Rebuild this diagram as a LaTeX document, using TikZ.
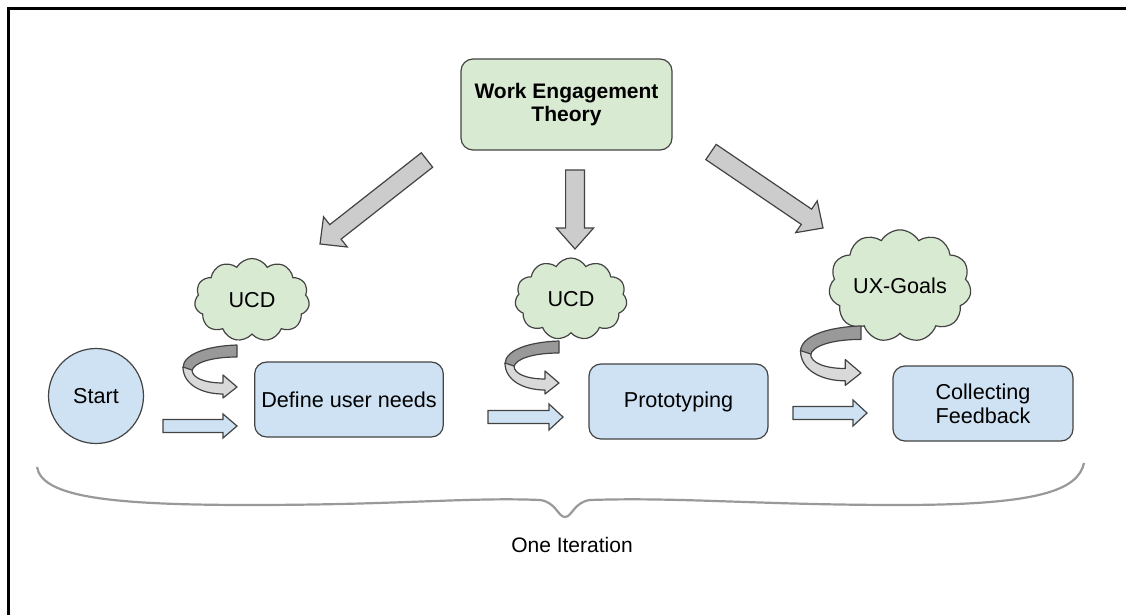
\documentclass[tikz,border=0pt]{standalone}
\usepackage{fontspec}
\setmainfont{Liberation Sans}
\usetikzlibrary{shapes.symbols,calc}

\definecolor{boxblue}{HTML}{CFE2F3}
\definecolor{boxgreen}{HTML}{D9EAD3}
\definecolor{edgegray}{HTML}{434343}
\definecolor{arrowgray}{HTML}{CCCCCC}
\definecolor{backgray}{HTML}{999999}
\definecolor{frontgray}{HTML}{D9D9D9}

% fat arrow from #2 to #3: half shaft #4, half head #5, head length #6
\newcommand{\blockarrow}[6][]{%
  \coordinate (hb) at ($(#3)!#6!(#2)$);
  \draw[#1] ($(#2)!#4!90:(#3)$) -- ($(hb)!#4!90:(#3)$) -- ($(hb)!#5!90:(#3)$) -- (#3)
    -- ($(hb)!#5!-90:(#3)$) -- ($(hb)!#4!-90:(#3)$) -- ($(#2)!#4!-90:(#3)$) -- cycle;}

% u-turn ribbon arrow, tip at #2
\newcommand{\turnarrow}[2][1]{%
  \begin{scope}[shift={(#2)},scale=#1,draw=edgegray,line width=0.6pt,line join=round]
    \filldraw[fill=backgray] (0,-42) .. controls (-30,-41) and (-54,-33) .. (-54,-19)
      -- (-45,-16) .. controls (-44,-24) and (-26,-30) .. (0,-30) -- cycle;
    \filldraw[fill=frontgray] (-54,-20) .. controls (-54,-3) and (-36,7) .. (-14,7)
      -- (-14,11) -- (0,0) -- (-14,-12) -- (-14,-4)
      .. controls (-32,-4) and (-45,-9) .. (-45,-17) -- cycle;
  \end{scope}}

\begin{document}
\begin{tikzpicture}[x=0.5pt,y=-0.5pt,
    font=\fontsize{10.8}{12}\selectfont,
    stage/.style={draw=edgegray,fill=boxblue,rounded corners=6pt,align=center,
      minimum height=37.5pt,line width=0.6pt},
    idea/.style={cloud,cloud puffs=11,cloud puff arc=120,aspect=1.4,draw=edgegray,
      fill=boxgreen,line width=0.6pt,inner sep=0pt},
    greyarrow/.style={draw=edgegray,fill=arrowgray,line width=0.6pt},
    flowarrow/.style={draw=edgegray,fill=boxblue,line width=0.6pt}]
  \useasboundingbox (0,0) rectangle (1126,615);
  \draw[line width=1.5pt] (1126,9) -- (8,9) -- (8,615);

  \node[draw=edgegray,fill=boxgreen,rounded corners=6pt,align=center,line width=0.6pt,
    minimum width=105.5pt,minimum height=45.5pt,font=\fontsize{10.5}{11.5}\selectfont\bfseries]
    (theory) at (566.5,104.5) {Work Engagement\\Theory};

  \node[circle,draw=edgegray,fill=boxblue,line width=0.6pt,minimum size=47.5pt] (start) at (96,396) {Start};
  \node[stage,minimum width=93pt] (needs) at (349,399.5) {Define user needs};
  \node[stage,minimum width=89.5pt] (proto) at (678.5,401.5) {Prototyping};
  \node[stage,minimum width=90pt] (feedback) at (983,403.5) {Collecting\\Feedback};

  \node[idea,minimum width=57.5pt,minimum height=41.5pt] (ucd1) at (252,300) {UCD};
  \node[idea,minimum width=56pt,minimum height=41pt] (ucd2) at (571,299) {UCD};
  \node[idea,minimum width=68.5pt,minimum height=52.5pt] (goals) at (900,286) {UX-Goals};

  % theory feeds every stage
  \coordinate (t1) at (427,160); \coordinate (h1) at (320,244);
  \coordinate (t2) at (575,170); \coordinate (h2) at (575,249);
  \coordinate (t3) at (711,152); \coordinate (h3) at (823,228);
  \blockarrow[greyarrow]{t1}{h1}{4.6pt}{9.6pt}{9.8pt}
  \blockarrow[greyarrow]{t2}{h2}{4.7pt}{9.3pt}{10.5pt}
  \blockarrow[greyarrow]{t3}{h3}{4.6pt}{9.6pt}{10pt}

  % process flow
  \coordinate (f1) at (163,426); \coordinate (g1) at (237,426);
  \coordinate (f2) at (488,417); \coordinate (g2) at (563,417);
  \coordinate (f3) at (793,413); \coordinate (g3) at (867,413);
  \blockarrow[flowarrow]{f1}{g1}{3.25pt}{6pt}{7pt}
  \blockarrow[flowarrow]{f2}{g2}{3.25pt}{6.5pt}{7pt}
  \blockarrow[flowarrow]{f3}{g3}{3.25pt}{6.5pt}{7pt}

  \coordinate (u1) at (237,387);
  \coordinate (u2) at (559,383);
  \coordinate (u3) at (861,373);
  \turnarrow{u1}
  \turnarrow{u2}
  \turnarrow[1.12]{u3}

  % brace under the whole loop
  \coordinate (brace-l) at (37,467);
  \coordinate (brace-m) at (565,517);
  \coordinate (brace-r) at (1084,463);
  \draw[backgray,line width=1.1pt] (brace-l) .. controls (42,497) and (110,505) .. (250,505)
    .. controls (400,505) and (470,497) .. (540,500)
    .. controls (556,502) and (558,517) .. (brace-m)
    .. controls (572,517) and (574,502) .. (590,500)
    .. controls (680,497) and (760,505) .. (900,505)
    .. controls (1040,505) and (1078,490) .. (brace-r);
  \node[font=\fontsize{10.5}{12}\selectfont] (iter) at (572,545) {One Iteration};
\end{tikzpicture}
\end{document}
